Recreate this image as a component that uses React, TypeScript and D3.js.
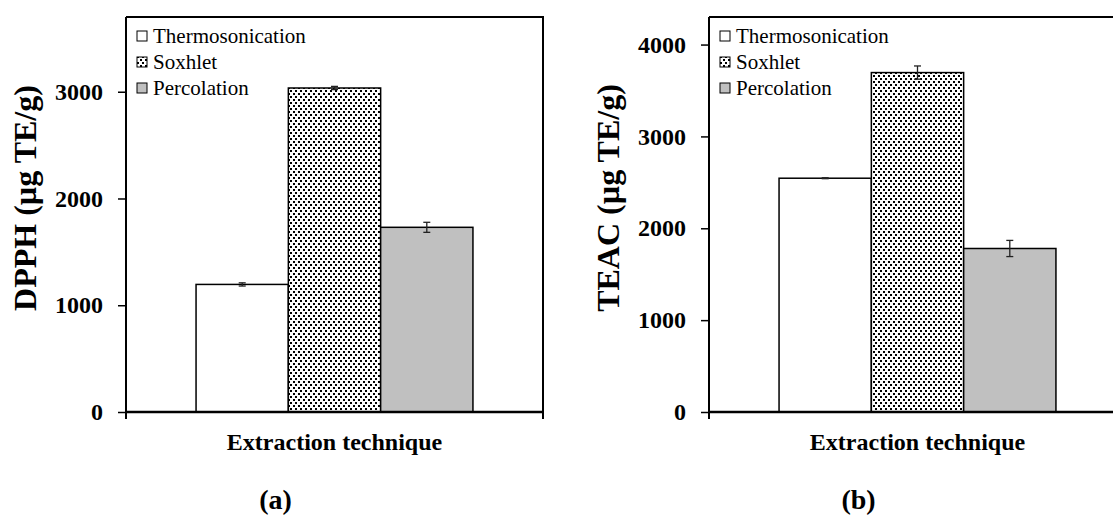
import { useEffect, useRef } from 'react'
import * as d3 from 'd3'

// series (same order in both panels)
const methods = ['Thermosonication', 'Soxhlet', 'Percolation']
const category = ['Extraction technique']

// (a) DPPH, µg TE/g
const dpphValues = [1195, 3035, 1730]
const dpphErrors = [15, 15, 47]
const dpphTicks = [0, 1000, 2000, 3000]

// (b) TEAC, µg TE/g
const teacValues = [2545, 3695, 1780]
const teacErrors = [5, 72, 88]
const teacTicks = [0, 1000, 2000, 3000, 4000]

const FONT = "'Liberation Serif', 'DejaVu Serif', serif"

type PanelOpts = {
  x0: number
  x1: number
  yMax: number
  values: number[]
  errors: number[]
  ticks: number[]
  yLabel: string
  letter: string
}

function drawPanel(svg: d3.Selection<SVGSVGElement, unknown, null, undefined>, o: PanelOpts) {
  const top = 17
  const bottom = 412
  const g = svg.append('g')

  const y = d3.scaleLinear().domain([0, o.yMax]).range([bottom, top])
  const xOuter = d3.scaleBand().domain(category).range([o.x0, o.x1]).paddingInner(0).paddingOuter(0.253)
  const xInner = d3.scaleBand().domain(methods).range([0, xOuter.bandwidth()]).padding(0)
  const fills = ['#ffffff', 'url(#dots)', '#c0c0c0']

  // bars
  g.selectAll('rect.bar')
    .data(methods)
    .enter()
    .append('rect')
    .attr('class', 'bar')
    .attr('x', (d) => (xOuter(category[0]) as number) + (xInner(d) as number))
    .attr('y', (d, i) => y(o.values[i]))
    .attr('width', xInner.bandwidth())
    .attr('height', (d, i) => bottom - y(o.values[i]))
    .attr('fill', (d, i) => fills[i])
    .attr('stroke', '#000')
    .attr('stroke-width', 1.5)

  // error bars
  methods.forEach((m, i) => {
    const cx = (xOuter(category[0]) as number) + (xInner(m) as number) + xInner.bandwidth() / 2
    const hi = y(o.values[i] + o.errors[i])
    const lo = y(o.values[i] - o.errors[i])
    const eb = g.append('g').attr('stroke', '#222').attr('stroke-width', 1.3)
    eb.append('line').attr('x1', cx).attr('x2', cx).attr('y1', hi).attr('y2', lo)
    eb.append('line').attr('x1', cx - 3.5).attr('x2', cx + 3.5).attr('y1', hi).attr('y2', hi)
    eb.append('line').attr('x1', cx - 3.5).attr('x2', cx + 3.5).attr('y1', lo).attr('y2', lo)
  })

  // frame: top and right borders
  g.append('path')
    .attr('d', `M${o.x0},${top}H${o.x1}V${bottom}`)
    .attr('fill', 'none')
    .attr('stroke', '#000')
    .attr('stroke-width', 2)

  // y axis
  const yAxis = g
    .append('g')
    .attr('transform', `translate(${o.x0},0)`)
    .call(d3.axisLeft(y).tickValues(o.ticks).tickSize(8).tickPadding(15).tickFormat(d3.format('d')))
  yAxis.select('.domain').attr('d', `M0,${top}V${bottom}`).attr('stroke-width', 2)
  yAxis.selectAll('.tick line').attr('stroke-width', 1.5)
  yAxis
    .selectAll('text')
    .attr('font-family', FONT)
    .attr('font-size', 24)
    .attr('font-weight', 'bold')
    .attr('fill', '#000')

  // x axis: one category, ticks at both ends
  const xAxis = g.append('g').attr('transform', `translate(0,${bottom})`)
  xAxis
    .append('line')
    .attr('x1', o.x0)
    .attr('x2', o.x1)
    .attr('stroke', '#000')
    .attr('stroke-width', 2.5)
  ;[o.x0, o.x1].forEach((tx) => {
    xAxis.append('line').attr('x1', tx).attr('x2', tx).attr('y1', 0).attr('y2', 7).attr('stroke', '#000').attr('stroke-width', 2)
  })

  const cx = (o.x0 + o.x1) / 2
  g.append('text')
    .attr('x', cx)
    .attr('y', 450)
    .attr('text-anchor', 'middle')
    .attr('font-family', FONT)
    .attr('font-size', 24)
    .attr('font-weight', 'bold')
    .text(category[0])

  g.append('text')
    .attr('x', cx - 59)
    .attr('y', 509)
    .attr('text-anchor', 'middle')
    .attr('font-family', FONT)
    .attr('font-size', 28)
    .attr('font-weight', 'bold')
    .text(o.letter)

  // y label
  g.append('text')
    .attr('transform', `translate(${o.x0 - 90},198) rotate(-90)`)
    .attr('text-anchor', 'middle')
    .attr('font-family', FONT)
    .attr('font-size', 32)
    .attr('font-weight', 'bold')
    .text(o.yLabel)

  // legend
  const legend = g.append('g').attr('transform', `translate(${o.x0 + 11},${top + 19})`)
  methods.forEach((m, i) => {
    const row = legend.append('g').attr('transform', `translate(0,${i * 26})`)
    row
      .append('rect')
      .attr('x', 0)
      .attr('y', -5)
      .attr('width', 10)
      .attr('height', 10)
      .attr('fill', fills[i])
      .attr('stroke', '#000')
      .attr('stroke-width', 1)
    row
      .append('text')
      .attr('x', 16)
      .attr('y', 7)
      .attr('font-family', FONT)
      .attr('font-size', 21)
      .text(m)
  })
}

export default function App() {
  const svgRef = useRef<SVGSVGElement>(null)

  useEffect(() => {
    if (!svgRef.current) return
    const svg = d3.select(svgRef.current)
    svg.selectAll('*').remove()

    // dotted fill for Soxhlet
    const pat = svg
      .append('defs')
      .append('pattern')
      .attr('id', 'dots')
      .attr('patternUnits', 'userSpaceOnUse')
      .attr('width', 5)
      .attr('height', 6)
    pat.append('rect').attr('width', 5).attr('height', 6).attr('fill', '#fff')
    pat.append('rect').attr('x', 0).attr('y', 0).attr('width', 2).attr('height', 2).attr('fill', '#000')
    pat.append('rect').attr('x', 3).attr('y', 3).attr('width', 2).attr('height', 2).attr('fill', '#000')

    drawPanel(svg, {
      x0: 126,
      x1: 543,
      yMax: 3700,
      values: dpphValues,
      errors: dpphErrors,
      ticks: dpphTicks,
      yLabel: 'DPPH (µg TE/g)',
      letter: '(a)',
    })
    drawPanel(svg, {
      x0: 709,
      x1: 1126,
      yMax: 4300,
      values: teacValues,
      errors: teacErrors,
      ticks: teacTicks,
      yLabel: 'TEAC (µg TE/g)',
      letter: '(b)',
    })
  }, [])

  return (
    <svg
      ref={svgRef}
      width={1113}
      height={516}
      style={{ position: 'absolute', left: 0, top: 0, background: '#fff', overflow: 'hidden' }}
    />
  )
}
